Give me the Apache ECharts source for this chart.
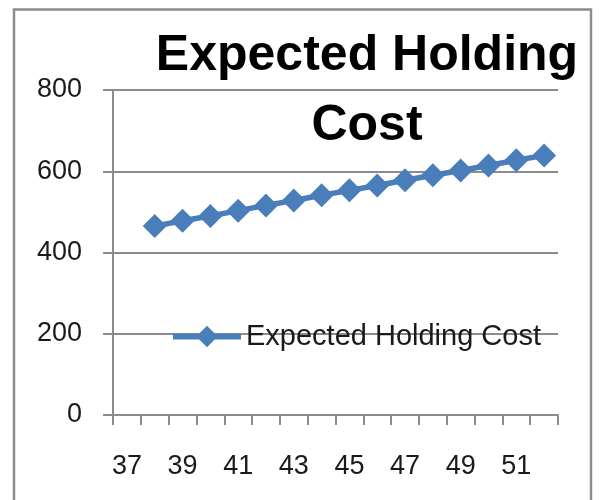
<!DOCTYPE html>
<html>
<head>
<meta charset="utf-8">
<script src="https://cdn.jsdelivr.net/npm/echarts@6/dist/echarts.min.js"></script>
<style>
html,body{margin:0;padding:0;background:#fff;}
#chart{width:599px;height:500px;}
</style>
</head>
<body>
<div id="chart"></div>
<script>
var titleText = 'Expected Holding\nCost';
var seriesName = 'Expected Holding Cost';
var categories = ['37','38','39','40','41','42','43','44','45','46','47','48','49','50','51','52'];
var holdingCost = [null, 465, 478, 490, 503, 516, 528, 541, 553, 565, 578, 590, 602, 614, 627, 639];
var yTicks = [0, 200, 400, 600, 800];

var FONT = '"Liberation Sans", Arial, sans-serif';
var chart = echarts.init(document.getElementById('chart'), null, {renderer: 'canvas'});
chart.setOption({
  animation: false,
  backgroundColor: '#ffffff',
  graphic: [{
    type: 'rect', z: -1, silent: true,
    shape: {x: 14, y: 9.5, width: 577, height: 520},
    style: {fill: 'none', stroke: '#8c8c8c', lineWidth: 2.5}
  }],
  title: {
    text: titleText,
    left: 367, top: 21, padding: 0,
    textAlign: 'center',
    textStyle: {fontFamily: FONT, fontWeight: 'bold', fontSize: 50, lineHeight: 70, color: '#000'}
  },
  legend: {
    data: [seriesName],
    left: 165, top: 317,
    itemWidth: 68, itemHeight: 27,
    lineStyle: {width: 6},
    textStyle: {fontFamily: FONT, fontSize: 29, color: '#1a1a1a'}
  },
  grid: {left: 113, right: 41, top: 90, bottom: 85, containLabel: false},
  xAxis: {
    type: 'category',
    data: categories,
    boundaryGap: true,
    axisLine: {lineStyle: {color: '#8c8c8c', width: 2}},
    axisTick: {show: true, inside: false, length: 10, alignWithLabel: false, interval: 0, lineStyle: {color: '#8c8c8c', width: 2}},
    axisLabel: {interval: 1, margin: 38, fontFamily: FONT, fontSize: 27, color: '#1a1a1a'},
    splitLine: {show: false}
  },
  yAxis: {
    type: 'value',
    min: yTicks[0], max: yTicks[yTicks.length - 1], interval: 200,
    axisLine: {show: true, lineStyle: {color: '#8c8c8c', width: 2}},
    axisTick: {show: true, length: 10, lineStyle: {color: '#8c8c8c', width: 2}},
    axisLabel: {margin: 31, fontFamily: FONT, fontSize: 27, color: '#1a1a1a'},
    splitLine: {show: true, lineStyle: {color: '#8c8c8c', width: 2}}
  },
  series: [{
    name: seriesName,
    type: 'line',
    data: holdingCost,
    symbol: 'diamond',
    symbolSize: 24,
    showSymbol: true,
    showAllSymbol: true,
    connectNulls: false,
    lineStyle: {color: '#4a7ebb', width: 5.5},
    itemStyle: {color: '#4a7ebb', borderWidth: 0}
  }]
});
</script>
</body>
</html>
